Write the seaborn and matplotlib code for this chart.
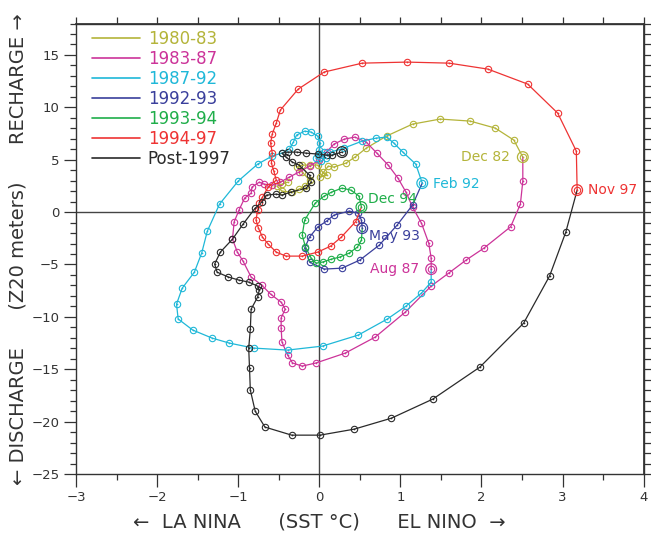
import numpy as np
import pandas as pd
import matplotlib
matplotlib.use("Agg")
import matplotlib.pyplot as plt
import seaborn as sns
from matplotlib.lines import Line2D
from matplotlib.ticker import MultipleLocator

# ---------------- data ----------------
periods = ["1980-83", "1983-87", "1987-92", "1992-93", "1993-94", "1994-97", "Post-1997"]
colors = ["#b4b43a", "#cc3399", "#1fb8d8", "#3a3f9c", "#1fae4a", "#ee3333", "#2a2a2a"]

sst_8083 = [-0.39, -0.46, -0.52, -0.46, -0.33, -0.25, -0.17, -0.12, -0.21, -0.27, -0.21, -0.11, -0.02,
            0.04, 0.10, 0.01, 0.11, 0.18, 0.33, 0.44, 0.58, 0.83, 1.15, 1.49, 1.86, 2.17, 2.40, 2.51]
z20_8083 = [2.86, 2.67, 2.48, 2.00, 1.90, 2.20, 2.48, 3.05, 3.82, 4.30, 4.49, 4.49, 4.49,
            3.82, 3.53, 3.34, 4.39, 4.30, 4.68, 5.25, 6.11, 7.26, 8.40, 8.88, 8.69, 8.02, 6.87, 5.25]

sst_8387 = [2.51, 2.51, 2.48, 2.36, 2.03, 1.81, 1.60, 1.38, 1.06, 0.69, 0.32, -0.04, -0.21, -0.33,
            -0.39, -0.46, -0.47, -0.47, -0.42, -0.47, -0.60, -0.71, -0.84, -0.94, -1.01, -1.07,
            -1.05, -0.99, -0.92, -0.84, -0.83, -0.74, -0.68, -0.58, -0.48, -0.37, -0.25, -0.12,
            0.00, 0.09, 0.18, 0.31, 0.44, 0.58, 0.71, 0.85, 0.97, 1.07, 1.15, 1.26, 1.35, 1.38, 1.38]
z20_8387 = [5.25, 2.96, 0.76, -1.40, -3.44, -4.58, -5.80, -7.06, -9.55, -11.93, -13.46, -14.40,
            -14.70, -14.40, -13.65, -12.40, -11.07, -10.10, -9.26, -8.60, -7.83, -6.97, -6.20,
            -4.68, -3.82, -2.58, -0.95, 0.19, 1.34, 1.81, 2.39, 2.86, 2.67, 2.58, 2.86, 3.34,
            3.82, 4.39, 4.96, 5.73, 6.49, 6.97, 7.16, 6.68, 5.63, 4.49, 3.25, 1.90, 0.48, -1.05,
            -2.96, -4.39, -5.44]

sst_8792 = [1.38, 1.38, 1.26, 1.07, 0.84, 0.48, 0.04, -0.39, -0.81, -1.11, -1.32, -1.56, -1.74,
            -1.76, -1.69, -1.54, -1.45, -1.38, -1.23, -1.00, -0.76, -0.58, -0.46, -0.37, -0.32,
            -0.28, -0.18, -0.10, -0.02, 0.01, 0.00, -0.04, 0.02, 0.08, 0.00, 0.06, 0.13, 0.30,
            0.53, 0.70, 0.83, 0.92, 1.03, 1.19, 1.27]
z20_8792 = [-5.44, -6.68, -7.73, -8.97, -10.20, -11.74, -12.79, -13.17, -12.98, -12.50, -12.03,
            -11.26, -10.20, -8.78, -7.26, -5.73, -3.91, -1.81, 0.76, 2.96, 4.58, 5.35, 5.63,
            6.01, 6.68, 7.35, 7.73, 7.64, 7.26, 6.59, 5.92, 5.16, 4.85, 5.20, 5.50, 5.70, 5.70,
            6.10, 6.78, 7.06, 7.16, 6.59, 5.73, 4.58, 2.77]

sst_9293 = [1.27, 1.15, 0.96, 0.74, 0.50, 0.28, 0.06, -0.12, -0.18, -0.12, -0.02, 0.09, 0.18,
            0.37, 0.48, 0.52, 0.53]
z20_9293 = [2.77, 0.67, -1.24, -3.15, -4.58, -5.35, -5.44, -4.77, -3.44, -2.39, -1.43, -0.86,
            -0.29, 0.10, -0.10, -0.76, -1.53]

sst_9394 = [0.53, 0.52, 0.47, 0.37, 0.25, 0.15, 0.04, -0.04, -0.10, -0.17, -0.21, -0.18, -0.05,
            0.06, 0.15, 0.28, 0.39, 0.49, 0.52]
z20_9394 = [-1.53, -2.67, -3.34, -3.91, -4.30, -4.49, -4.77, -4.87, -4.39, -3.34, -2.20, -0.76,
            0.86, 1.53, 1.90, 2.29, 2.10, 1.53, 0.48]

sst_9497 = [0.52, 0.45, 0.27, 0.14, -0.02, -0.21, -0.41, -0.53, -0.63, -0.70, -0.75, -0.78,
            -0.76, -0.74, -0.70, -0.63, -0.53, -0.56, -0.59, -0.58, -0.60, -0.58, -0.53, -0.48,
            -0.26, 0.06, 0.53, 1.08, 1.60, 2.08, 2.57, 2.94, 3.17, 3.18]
z20_9497 = [0.48, -0.90, -2.40, -3.25, -3.82, -4.20, -4.20, -3.82, -3.05, -2.39, -1.53, -0.76,
            0.19, 0.86, 1.43, 2.39, 3.05, 3.90, 4.68, 5.63, 6.59, 7.45, 8.50, 9.74, 11.74,
            13.37, 14.22, 14.32, 14.22, 13.65, 12.22, 9.45, 5.82, 2.10]

sst_post = [3.18, 3.04, 2.84, 2.52, 1.98, 1.40, 0.89, 0.43, 0.01, -0.34, -0.67, -0.79, -0.85,
            -0.86, -0.87, -0.85, -0.84, -0.76, -0.74, -0.76, -0.87, -0.99, -1.12, -1.26, -1.29,
            -1.22, -1.07, -0.94, -0.79, -0.71, -0.65, -0.53, -0.46, -0.35, -0.16, -0.10, -0.12,
            -0.25, -0.33, -0.41, -0.46, -0.39, -0.28, -0.16, -0.02, 0.09, 0.16, 0.28]
z20_post = [2.10, -1.91, -6.10, -10.60, -14.80, -17.85, -19.67, -20.72, -21.29, -21.29, -20.52,
            -19.00, -16.99, -14.90, -12.98, -11.17, -9.26, -8.11, -7.45, -7.06, -6.68, -6.49,
            -6.20, -5.73, -4.96, -3.82, -2.58, -1.15, 0.38, 0.95, 1.62, 1.72, 1.62, 1.91, 2.29,
            2.86, 3.53, 4.49, 4.77, 5.25, 5.63, 5.73, 5.73, 5.63, 5.54, 5.44, 5.44, 5.73]

# labelled end points: text of the last point of each period
end_labels = ["Dec 82", "Aug 87", "Feb 92", "May 93", "Dec 94", "Nov 97", ""]

x_ticks = [-3, -2, -1, 0, 1, 2, 3, 4]
y_ticks = [-25, -20, -15, -10, -5, 0, 5, 10, 15]

series_x = [sst_8083, sst_8387, sst_8792, sst_9293, sst_9394, sst_9497, sst_post]
series_y = [z20_8083, z20_8387, z20_8792, z20_9293, z20_9394, z20_9497, z20_post]

# ---------------- plot ----------------
sns.set_theme(style="white")
plt.rcParams['font.family'] = ['DejaVu Sans']
plt.rcParams['axes.unicode_minus'] = True

fig = plt.figure(figsize=(6.51, 5.35), dpi=100)
ax = fig.add_axes([0.1167, 0.114, 0.872, 0.842])

ax.axhline(0, color="#444444", lw=1.0, zorder=1)
ax.axvline(0, color="#444444", lw=1.0, zorder=1)

for i, (per, col, xs, ys) in enumerate(zip(periods, colors, series_x, series_y)):
    df = pd.DataFrame({"sst": xs, "z20": ys})
    start = 0 if i == 0 else 1   # first point is the previous period's labelled end point
    sns.lineplot(data=df, x="sst", y="z20", sort=False, estimator=None, color=col,
                 lw=0.9, marker="o", ms=4.6, mfc="none", mec=col, mew=0.8,
                 markevery=slice(start, None), ax=ax, zorder=3)
    ax.scatter(df["sst"][start:], df["z20"][start:], s=1.5, color=col, linewidths=0, zorder=4)

# emphasised end points with labels
offsets = {"Dec 82": (-9, 0, "right"), "Aug 87": (-9, 0, "right"), "Feb 92": (8, -1, "left"),
           "May 93": (5, -6, "left"), "Dec 94": (5, 6, "left"), "Nov 97": (8, 0, "left")}
for col, xs, ys, lab in zip(colors, series_x, series_y, end_labels):
    ax.scatter([xs[-1]], [ys[-1]], s=60, facecolors="none", edgecolors=col, linewidths=0.9, zorder=5)
    if lab:
        dx, dy, ha = offsets[lab]
        ax.annotate(lab, (xs[-1], ys[-1]), xytext=(dx, dy), textcoords="offset points",
                    ha=ha, va="center", color=col, fontsize=10)

ax.set_xlim(-3, 4)
ax.set_ylim(-25, 18)
ax.set_xticks(x_ticks)
ax.set_yticks(y_ticks)
ax.xaxis.set_minor_locator(MultipleLocator(0.5))
ax.yaxis.set_minor_locator(MultipleLocator(1))
ax.tick_params(axis="both", which="major", direction="out", length=9, width=0.9,
               color="#333333", labelsize=9.5, labelcolor="#333333", pad=3,
               bottom=True, left=True)
ax.tick_params(axis="both", which="minor", direction="out", length=4, width=0.9,
               color="#333333", bottom=True, left=True)

top = ax.secondary_xaxis("top")
top.set_xticks(np.arange(-3, 4.01, 0.5))
top.tick_params(direction="out", length=5, width=0.9, color="#333333", labeltop=False)
right = ax.secondary_yaxis("right")
right.set_yticks(np.arange(-25, 18.01, 1))
right.tick_params(direction="out", length=5, width=0.9, color="#333333", labelright=False)

for sp in list(ax.spines.values()):
    sp.set_color("#333333")
    sp.set_linewidth(1.0)
top.spines["top"].set_color("#333333")
right.spines["right"].set_color("#333333")

ax.set_xlabel("\u2190  LA NINA      (SST \u00b0C)      EL NINO  \u2192", fontsize=14,
              color="#333333")
ax.xaxis.set_label_coords(3 / 7, -0.085)
ax.set_ylabel("\u2190 DISCHARGE      (Z20 meters)      RECHARGE \u2192", fontsize=14,
              color="#333333")
ax.yaxis.set_label_coords(-0.086, 0.5)

handles = [Line2D([0], [0], color=c, lw=1.2) for c in colors]
ax.legend(handles, periods, loc="upper left", bbox_to_anchor=(0.028, 0.985), frameon=False,
          labelcolor=colors, fontsize=12, handlelength=2.9, handletextpad=0.45,
          labelspacing=0.12, borderpad=0, borderaxespad=0)

fig.savefig("out.png", dpi=100)
